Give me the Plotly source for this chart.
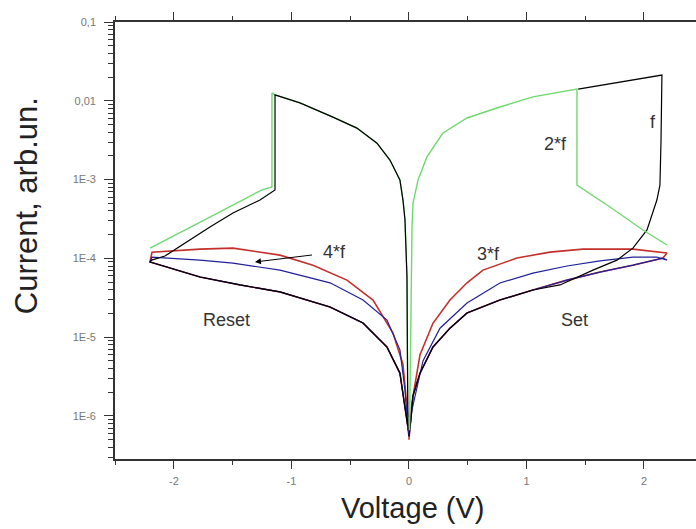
import math
import plotly.graph_objects as go

# ---- ON-state branch (shared by the f and 2*f sweeps), ordered from V=0 outward
on_pos_v = [0.005, 0.010, 0.017, 0.026, 0.034, 0.077, 0.153, 0.289, 0.494, 0.774, 1.055, 1.43]
on_pos_i = [6.6e-7, 3.0e-6, 2.2e-5, 2.5e-4, 5.0e-4, 9.9e-4, 1.94e-3, 3.9e-3, 6.05e-3, 8.34e-3, 1.12e-2, 1.41e-2]
on_neg_v = [-0.009, -0.017, -0.034, -0.051, -0.077, -0.162, -0.272, -0.443, -0.647, -0.928, -1.14]
on_neg_i = [6.6e-7, 5.8e-5, 3.1e-4, 5.5e-4, 9.9e-4, 1.77e-3, 2.9e-3, 4.5e-3, 6.2e-3, 9.4e-3, 1.19e-2]

# ---- OFF-state lower branch (common to all cycles)
low_pos_v = [0.0, 0.017, 0.034, 0.094, 0.204, 0.349, 0.494, 0.774, 1.055, 1.345, 1.626, 1.906, 2.162]
low_pos_i = [5.5e-7, 9.0e-7, 1.8e-6, 3.5e-6, 7.5e-6, 1.3e-5, 2.03e-5, 2.96e-5, 3.97e-5, 5.3e-5, 6.7e-5, 8.2e-5, 1.01e-4]
low_neg_v = [-0.009, -0.034, -0.077, -0.187, -0.391, -0.672, -1.098, -1.438, -1.779, -2.204]
low_neg_i = [7.2e-7, 1.3e-6, 3.5e-6, 7.5e-6, 1.51e-5, 2.42e-5, 3.75e-5, 4.6e-5, 5.8e-5, 9.0e-5]

# ---- 3*f upper branch (red)
red_pos_v = [0.0, 0.026, 0.094, 0.204, 0.349, 0.494, 0.630, 0.919, 1.2, 1.481, 1.906, 2.196]
red_pos_i = [5.0e-7, 1.5e-6, 6.0e-6, 1.5e-5, 2.96e-5, 4.9e-5, 7.1e-5, 1.01e-4, 1.2e-4, 1.31e-4, 1.31e-4, 1.17e-4]
red_neg_v = [-0.009, -0.051, -0.136, -0.306, -0.528, -0.817, -1.098, -1.498, -1.779, -2.187]
red_neg_i = [9.7e-7, 4.5e-6, 1.13e-5, 2.96e-5, 5.3e-5, 8.2e-5, 1.1e-4, 1.35e-4, 1.31e-4, 1.2e-4]

# ---- 4*f upper branch (blue)
blue_pos_v = [0.0, 0.026, 0.119, 0.264, 0.494, 0.774, 1.055, 1.345, 1.626, 1.906, 2.11, 2.196]
blue_pos_i = [5.5e-7, 1.2e-6, 5.0e-6, 1.3e-5, 2.72e-5, 4.88e-5, 6.5e-5, 8.0e-5, 9.3e-5, 1.04e-4, 1.04e-4, 9.5e-5]
blue_neg_v = [-0.009, -0.034, -0.077, -0.187, -0.391, -0.672, -1.098, -1.498, -1.779, -2.187]
blue_neg_i = [7.2e-7, 2.14e-6, 6.9e-6, 1.65e-5, 2.96e-5, 4.9e-5, 7.1e-5, 8.7e-5, 9.5e-5, 1.04e-4]

# ---- f cycle (black): set transition at positive bias, reset at negative bias
f_set_v = [1.285, 1.566, 1.77, 1.906, 2.026, 2.11, 2.136, 2.145, 2.153, 1.44]
f_set_i = [4.6e-5, 7.1e-5, 9.5e-5, 1.35e-4, 2.3e-4, 5.5e-4, 8.5e-4, 3.0e-3, 2.12e-2, 1.41e-2]
f_reset_v = [-1.14, -1.14, -1.268, -1.498, -1.694, -1.889, -2.077, -2.19]
f_reset_i = [1.19e-2, 7.4e-4, 5.5e-4, 3.77e-4, 2.5e-4, 1.61e-4, 1.07e-4, 9.5e-5]

# ---- 2*f cycle (green)
f2_pos_v = [1.43, 1.43, 1.711, 1.991, 2.196]
f2_pos_i = [1.41e-2, 8.5e-4, 4.49e-4, 2.29e-4, 1.48e-4]
f2_neg_v = [-1.166, -1.166, -1.251, -1.694, -2.204]
f2_neg_i = [1.26e-2, 8.05e-4, 7.4e-4, 3.35e-4, 1.35e-4]

# ---- text labels: (text, V, I)
labels = [("Reset", -1.557, 1.65e-5), ("Set", 1.413, 1.65e-5), ("3*f", 0.681, 1.14e-4),
          ("2*f", 1.251, 2.83e-3), ("f", 2.077, 5.4e-3)]
arrow_label = ("4*f", -0.63, 1.2e-4)
arrow_tip = (-1.311, 9.0e-5)

ytick_vals = [1e-6, 1e-5, 1e-4, 1e-3, 1e-2, 1e-1]
ytick_text = ["1E-6", "1E-5", "1E-4", "1E-3", "0,01", "0,1"]
xtick_vals = [-2, -1, 0, 1, 2]

FONT = "Liberation Sans, Arial, sans-serif"
RED = "#c4302b"
BLUE = "#20209a"
GREEN = "#6fd96f"


def loop(up_pos_v, up_pos_i, up_neg_v, up_neg_i):
    """Closed loop: upper branch out to +V, lower branch back, lower to -V, upper back."""
    xs = up_pos_v + low_pos_v[::-1] + low_neg_v + up_neg_v[::-1]
    ys = up_pos_i + low_pos_i[::-1] + low_neg_i + up_neg_i[::-1]
    return xs, ys


fig = go.Figure()

rx, ry = loop(red_pos_v, red_pos_i, red_neg_v, red_neg_i)
fig.add_trace(go.Scatter(x=rx, y=ry, mode="lines", line=dict(color=RED, width=1.6)))
bx, by = loop(blue_pos_v, blue_pos_i, blue_neg_v, blue_neg_i)
fig.add_trace(go.Scatter(x=bx, y=by, mode="lines", line=dict(color=BLUE, width=1.2)))

# f cycle, positive half (under the green ON branch)
n_low = low_pos_v.index(1.055) + 1
fig.add_trace(go.Scatter(x=low_pos_v[:n_low] + f_set_v, y=low_pos_i[:n_low] + f_set_i,
                         mode="lines", line=dict(color="black", width=1.2)))

# 2*f cycle
g_x = on_pos_v + f2_pos_v[1:] + [None] + on_neg_v + f2_neg_v
g_y = on_pos_i + f2_pos_i[1:] + [None] + on_neg_i + f2_neg_i
fig.add_trace(go.Scatter(x=g_x, y=g_y, mode="lines", line=dict(color=GREEN, width=1.4),
                         connectgaps=False))

# f cycle, negative half: ON branch, reset drop, return along the OFF branch
k_x = on_neg_v + f_reset_v[1:] + low_neg_v[::-1]
k_y = on_neg_i + f_reset_i[1:] + low_neg_i[::-1]
fig.add_trace(go.Scatter(x=k_x, y=k_y, mode="lines", line=dict(color="black", width=1.2)))

annotations = []
for text, v, i in labels:
    annotations.append(dict(x=v, y=math.log10(i), xref="x", yref="y", text=text,
                            showarrow=False, font=dict(family=FONT, size=18, color="#333333")))
annotations.append(dict(x=arrow_tip[0], y=math.log10(arrow_tip[1]), xref="x", yref="y",
                        text=arrow_label[0], showarrow=True, arrowhead=2, arrowsize=1.2,
                        arrowwidth=1, arrowcolor="black", startstandoff=10,
                        ax=arrow_label[1], ay=math.log10(arrow_label[2]), axref="x", ayref="y",
                        font=dict(family=FONT, size=18, color="#333333")))
annotations.append(dict(x=0.03, y=-0.112, xref="x", yref="paper",
                        text="Voltage (V)", showarrow=False, yanchor="middle",
                        font=dict(family=FONT, size=29, color="#222222")))
annotations.append(dict(x=-0.152, y=0.58, xref="paper", yref="paper", text="Current, arb.un.",
                        textangle=-90, showarrow=False, xanchor="center", yanchor="middle",
                        font=dict(family=FONT, size=31, color="#222222")))

fig.update_layout(
    width=696, height=529,
    margin=dict(l=115, r=0, t=22, b=70),
    paper_bgcolor="white", plot_bgcolor="white",
    showlegend=False,
    annotations=annotations,
    xaxis=dict(range=[-2.502, 2.443], tickvals=xtick_vals, ticktext=[str(v) for v in xtick_vals],
               ticks="outside", ticklen=8, tickwidth=1.2, tickcolor="#333333",
               minor=dict(dtick=0.5, tick0=0, ticks="outside", ticklen=4, tickcolor="#333333"),
               showline=True, linecolor="#333333", linewidth=1.6, mirror="ticks",
               showgrid=False, zeroline=False, ticklabelstandoff=3,
               tickfont=dict(family=FONT, size=11, color="#777777")),
    yaxis=dict(type="log", range=[-6.546, -1.0], tickvals=ytick_vals, ticktext=ytick_text,
               ticks="outside", ticklen=9, tickwidth=1.2, tickcolor="#333333",
               minor=dict(tickvals=[k * 10.0 ** e for e in range(-7, -1) for k in range(2, 10)],
                          ticks="outside", ticklen=5, tickcolor="#333333"),
               showline=True, linecolor="#333333", linewidth=1.6, mirror=False,
               showgrid=False, zeroline=False, ticklabelstandoff=6,
               tickfont=dict(family=FONT, size=11, color="#777777")),
)

fig.write_html("out.html")
